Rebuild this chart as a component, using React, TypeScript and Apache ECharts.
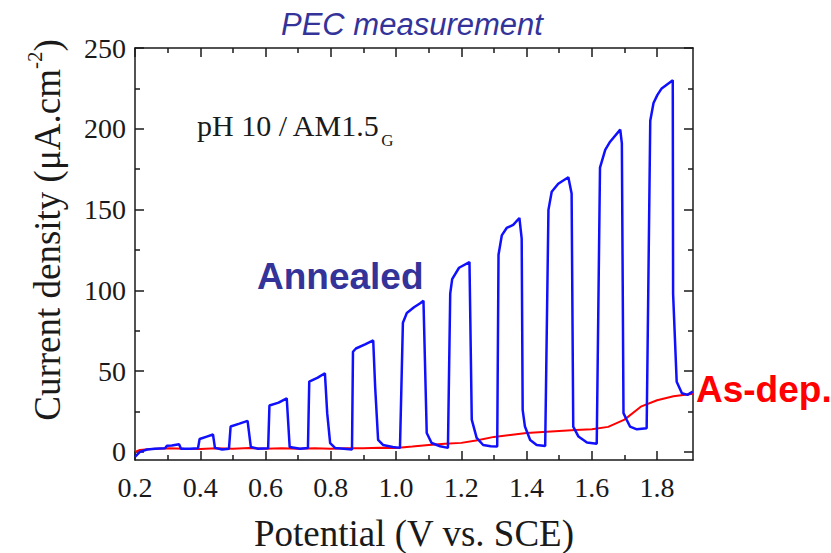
import React, { useEffect, useRef } from "react";
import * as echarts from "echarts";

const annealedX = [0.200,0.215,0.237,0.261,0.292,0.298,0.313,0.335,0.341,0.369,0.393,0.398,0.420,0.439,0.445,0.467,0.488,0.493,0.520,0.545,0.555,0.577,0.608,0.612,0.640,0.665,0.674,0.706,0.730,0.734,0.760,0.782,0.789,0.798,0.813,0.840,0.865,0.868,0.877,0.905,0.930,0.936,0.945,0.960,0.990,1.012,1.021,1.033,1.055,1.074,1.084,1.094,1.109,1.135,1.159,1.166,1.172,1.193,1.225,1.232,1.247,1.267,1.290,1.310,1.314,1.324,1.339,1.359,1.378,1.385,1.388,1.395,1.411,1.431,1.457,1.467,1.477,1.497,1.528,1.538,1.543,1.559,1.585,1.615,1.625,1.641,1.656,1.687,1.692,1.697,1.707,1.717,1.738,1.768,1.779,1.789,1.801,1.814,1.848,1.849,1.860,1.876,1.893,1.909];
const annealedY = [-3,0,1.5,2,2.2,3.8,4,4.8,2,2,2.2,8,9.5,10.8,2.5,1.5,2,15.7,17.5,19.2,3,2,2.2,28.7,30.5,33.2,3,2,2.5,43.5,46,48.7,24,5.5,2.5,2,1.5,62,64,66.5,69,40,7.4,4.3,3,2.5,80,86,89.5,92,93.6,11.7,5.5,3.5,2.5,98,107,114,117.5,20,8.7,4.3,3.5,3.3,122,134,138.6,140.5,144.8,132,26,15.7,7.4,4.3,3.7,149.8,161,166,170,160,15.7,9.5,5.8,5,176,187,192,199.5,191,24,19.8,15.7,14,14.6,205,216,221,225,230,98,43.5,36.3,35.3,37.3];

const asDepX = [0.200,0.215,0.25,0.30,0.35,0.40,0.45,0.50,0.55,0.60,0.65,0.70,0.75,0.80,0.85,0.90,0.95,1.00,1.05,1.10,1.15,1.20,1.25,1.30,1.35,1.40,1.45,1.50,1.55,1.60,1.65,1.70,1.75,1.80,1.85,1.91];
const asDepY = [0,1.2,1.8,2.2,1.9,1.8,2.3,2.0,2.4,1.9,2.2,2.0,2.3,2.0,2.2,2.3,2.6,2.5,3.3,4.3,5.0,5.6,7.2,9.3,10.5,11.7,12.4,13,13.5,14,15.5,20,28,32,34.5,36];

const xMajor = [0.2,0.4,0.6,0.8,1.0,1.2,1.4,1.6,1.8];
const xMinor = [0.3,0.5,0.7,0.9,1.1,1.3,1.5,1.7];
const yMajor = [0,50,100,150,200,250];
const yMinor = [25,75,125,175,225];

const X_MIN = 0.2, X_MAX = 1.91, Y_MIN = -5, Y_MAX = 250;
const SERIF = "'Liberation Serif', 'Times New Roman', serif";
const SANS = "'Liberation Sans', Arial, sans-serif";

function xAx(pos: string, ticks: number[], len: number, labels: boolean, line: boolean, extra: any = {}) {
  return {
    type: "value", position: pos, min: X_MIN, max: X_MAX,
    axisLine: { show: line, onZero: false, lineStyle: { color: "#1a1a1a", width: 1.5 } },
    axisTick: { show: true, inside: true, length: len, customValues: ticks, lineStyle: { color: "#1a1a1a", width: 1.5 } },
    axisLabel: labels ? { show: true, customValues: xMajor, formatter: (v: number) => v.toFixed(1), fontFamily: SERIF, fontSize: 28, color: "#1a1a1a", margin: 13 } : { show: false },
    splitLine: { show: false },
    ...extra,
  };
}
function yAx(pos: string, ticks: number[], len: number, labels: boolean, line: boolean, extra: any = {}) {
  return {
    type: "value", position: pos, min: Y_MIN, max: Y_MAX,
    axisLine: { show: line, onZero: false, lineStyle: { color: "#1a1a1a", width: 1.5 } },
    axisTick: { show: true, inside: true, length: len, customValues: ticks, lineStyle: { color: "#1a1a1a", width: 1.5 } },
    axisLabel: labels ? { show: true, customValues: yMajor, fontFamily: SERIF, fontSize: 28, color: "#1a1a1a", margin: 9 } : { show: false },
    splitLine: { show: false },
    ...extra,
  };
}

export default function App() {
  const ref = useRef<HTMLDivElement>(null);
  useEffect(() => {
    if (!ref.current) return;
    const chart = echarts.init(ref.current, null, { renderer: "svg" });
    const annealed = annealedX.map((x, i) => [x, annealedY[i]]);
    const asDep = asDepX.map((x, i) => [x, asDepY[i]]);
    chart.setOption({
      animation: false,
      backgroundColor: "#ffffff",
      title: {
        text: "PEC measurement", left: 276, top: 4,
        textStyle: { fontFamily: SANS, fontStyle: "italic", fontWeight: "normal", fontSize: 31, color: "#333399" },
      },
      grid: { left: 135, right: 138, top: 48, bottom: 93, containLabel: false, outerBoundsMode: "none" },
      xAxis: [
        xAx("bottom", xMajor, 9, true, true, {
          name: "Potential (V vs. SCE)", nameLocation: "middle", nameGap: 55,
          nameTextStyle: { fontFamily: SERIF, fontSize: 37, lineHeight: 37, color: "#1a1a1a" },
        }),
        xAx("bottom", xMinor, 5, false, false),
        xAx("top", xMajor, 9, false, true),
        xAx("top", xMinor, 5, false, false),
      ],
      yAxis: [
        yAx("left", yMajor, 9, true, true),
        yAx("left", yMinor, 5, false, false),
        yAx("right", yMajor, 9, false, true),
        yAx("right", yMinor, 5, false, false),
      ],
      graphic: [
        {
          type: "text", x: 45, y: 230, rotation: Math.PI / 2,
          style: {
            text: "{a|Current density (μA.cm}{s|-2}{a|)}",
            align: "center", verticalAlign: "middle",
            rich: {
              a: { fontFamily: SERIF, fontSize: 37, fill: "#1a1a1a", lineHeight: 42, verticalAlign: "bottom" },
              s: { fontFamily: SERIF, fontSize: 21, fill: "#1a1a1a", lineHeight: 42, verticalAlign: "top" },
            },
          },
        },
        {
          type: "text", left: 197, top: 110,
          style: {
            text: "{a|pH 10 / AM1.5}{s|G}",
            rich: {
              a: { fontFamily: SERIF, fontSize: 30, fill: "#1a1a1a", lineHeight: 34, verticalAlign: "bottom" },
              s: { fontFamily: SERIF, fontSize: 17, fill: "#1a1a1a", lineHeight: 34, verticalAlign: "bottom", padding: [0, 0, -9, 1] },
            },
          },
        },
        {
          type: "text", left: 257, top: 258,
          style: { text: "Annealed", font: `bold 37px ${SANS}`, fill: "#333399" },
        },
        {
          type: "text", left: 696, top: 371,
          style: { text: "As-dep.", font: `bold 37px ${SANS}`, fill: "#ff0000" },
        },
      ],
      series: [
        {
          name: "As-dep.", type: "line", data: asDep, xAxisIndex: 0, yAxisIndex: 0,
          showSymbol: false, symbol: "none", lineStyle: { color: "#ff0000", width: 2 }, z: 2,
        },
        {
          name: "Annealed", type: "line", data: annealed, xAxisIndex: 0, yAxisIndex: 0,
          showSymbol: false, symbol: "none", lineStyle: { color: "#1010ff", width: 2.5 }, z: 3,
        },
      ],
    });
    return () => chart.dispose();
  }, []);
  return <div ref={ref} style={{ position: "fixed", left: 0, top: 0, width: 831, height: 553, background: "#fff" }} />;
}
